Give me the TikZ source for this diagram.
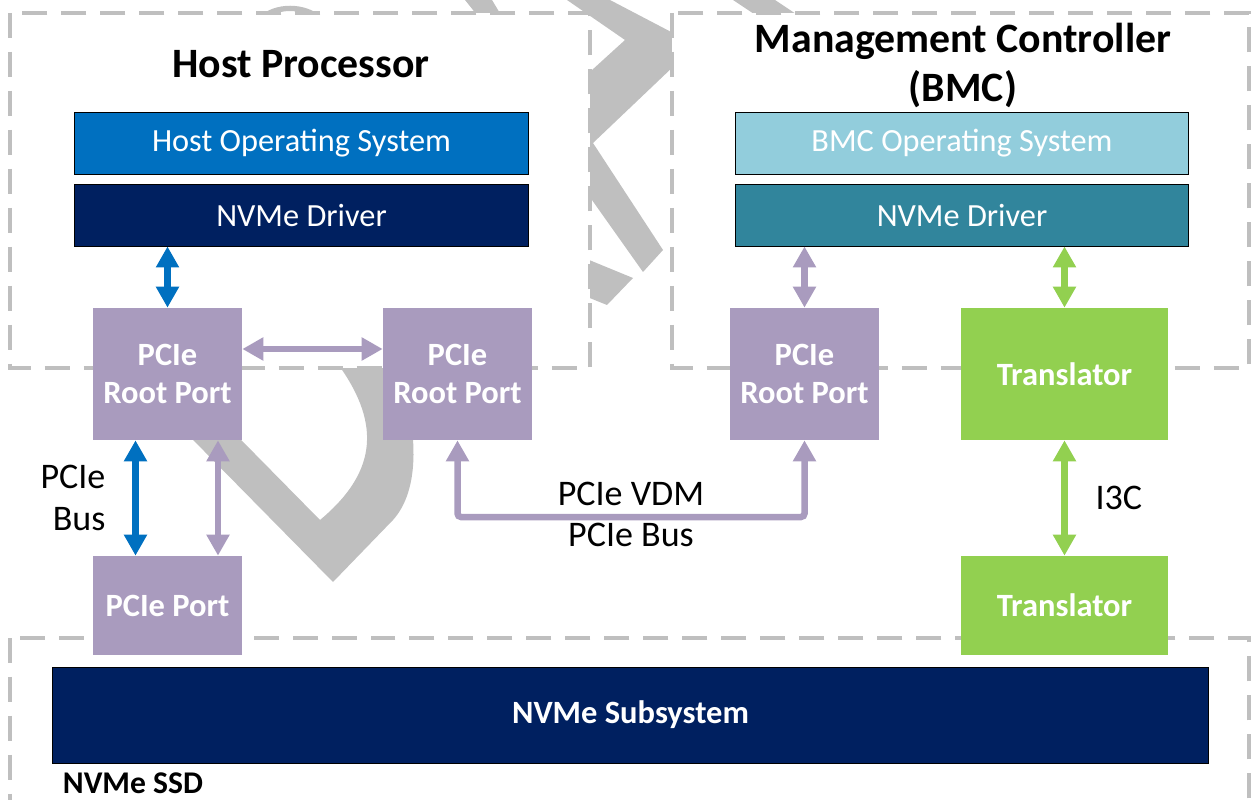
\documentclass[tikz,border=0pt]{standalone}
\usepackage{fontspec}
\setmainfont{Carlito}
\usepackage{tikz}
\usetikzlibrary{arrows.meta,positioning,calc}

\definecolor{hostblue}{HTML}{0070C0}
\definecolor{navy}{HTML}{002060}
\definecolor{bmclight}{HTML}{92CDDC}
\definecolor{bmcteal}{HTML}{31859C}
\definecolor{lav}{HTML}{A99BBE}
\definecolor{grn}{HTML}{92D050}
\definecolor{wmgray}{HTML}{BFBFBF}

\begin{document}
\begin{tikzpicture}[x=0.02cm, y=-0.02cm,
  layer/.style={draw=black, line width=0.5pt, inner sep=0pt, minimum width=9.07cm,
    minimum height=1.24cm, text=white, font=\fontsize{18.4}{22}\selectfont},
  block/.style={inner sep=0pt, minimum width=2.98cm, minimum height=2.64cm, text=white,
    align=center, font=\bfseries\fontsize{18.5}{21.6}\selectfont},
  zone/.style={draw=wmgray, fill=white, line width=0.065cm, dash pattern=on 0.5cm off 0.28cm},
  link/.style={line width=0.13cm,
    {Triangle[width=0.44cm,length=0.42cm]}-{Triangle[width=0.44cm,length=0.42cm]}},
  lbl/.style={text=black, font=\fontsize{20.5}{24}\selectfont},
  title/.style={anchor=base, align=center, font=\bfseries\fontsize{23.8}{27.9}\selectfont}]
  \useasboundingbox (0,0) rectangle (1251,800);

  % watermark behind the areas
  \fill[wmgray] (567,0) -- (610,0) -- (696,45) -- (593,143) -- (663,250) -- (643,272)
    -- (536,121) -- (625,40) -- cycle;
  \fill[wmgray] (560,248) -- (633,278) -- (607,305) -- (560,286) -- cycle;
  \fill[wmgray] (733,0) -- (775,0) -- (805,20) -- (763,20) -- cycle;
  \fill[wmgray] (465,0) -- (492,0) -- (504,20) -- (481,20) -- cycle;
  \fill[wmgray] (259,17) .. controls (275,2) and (305,2) .. (322,17) -- (312,17)
    .. controls (300,9) and (280,9) .. (269,17) -- cycle;
  \fill[wmgray] (140,386) -- (333,582) -- (393,520) .. controls (420,490) and (420,430) .. (395,360)
    -- (335,360) .. controls (380,420) and (380,470) .. (320,520) -- (190,388) -- cycle;

  % areas
  \draw[zone] (10,13) rectangle (590,368);
  \draw[zone] (672,13) rectangle (1249,368);
  \draw[zone] (10,638) rectangle (1249,820);

  \node[title] (hosttitle) at (301,78) {Host Processor};
  \node[title] (bmctitle) at (963,102) {Management Controller\\(BMC)};

  \node[layer, fill=hostblue] (hostos) at (301.5,143) {Host Operating System};
  \node[layer, fill=navy] (hostdrv) at (301.5,215) {NVMe Driver};
  \node[layer, fill=bmclight] (bmcos) at (962,143) {BMC Operating System};
  \node[layer, fill=bmcteal] (bmcdrv) at (962,215) {NVMe Driver};

  \node[block, fill=lav] (rootA) at (167.5,374) {PCIe\\Root Port};
  \node[block, fill=lav] (rootB) at (457.5,374) {PCIe\\Root Port};
  \node[block, fill=lav] (rootC) at (804.5,374) {PCIe\\Root Port};
  \node[block, fill=grn, minimum width=4.14cm] (transA) at (1064.5,374) {Translator};
  \node[block, fill=lav, minimum height=1.98cm] (port) at (167.5,605.5) {PCIe Port};
  \node[block, fill=grn, minimum width=4.14cm, minimum height=1.98cm] (transB) at (1064.5,605.5) {Translator};

  \node[draw=black, line width=0.5pt, fill=navy, minimum width=23.14cm, minimum height=1.92cm,
    text=white, font=\bfseries\fontsize{18.5}{21}\selectfont] (subsys) at (630.5,715) {NVMe Subsystem};
  \node[anchor=base, font=\bfseries\fontsize{18}{21}\selectfont] (ssd) at (133,793) {NVMe SSD};

  % links
  \draw[link, hostblue] (rootA.north |- hostdrv.south) -- (rootA.north);
  \draw[link, lav] ([yshift=0.5cm]rootA.east) -- ([yshift=0.5cm]rootB.west);
  \draw[link, hostblue] ([xshift=-0.64cm]rootA.south) -- ([xshift=-0.64cm]port.north)
    node[midway, left=0.42cm, align=right, lbl] (busA) {PCIe\\Bus};
  \draw[link, lav] ([xshift=1.01cm]rootA.south) -- ([xshift=1.01cm]port.north);

  \coordinate (vdm) at (631,517);
  \draw[link, lav, rounded corners=2pt] (rootB.south) |- (vdm) -| (rootC.south);
  \node[lbl, anchor=base] (vdmtop) at ([yshift=0.24cm]vdm) {PCIe VDM};
  \node[lbl, anchor=base] (vdmbus) at ([yshift=-0.6cm]vdm) {PCIe Bus};

  \draw[link, lav] (rootC.north |- bmcdrv.south) -- (rootC.north);
  \draw[link, grn] (transA.north |- bmcdrv.south) -- (transA.north);
  \draw[link, grn] (transA.south) -- (transB.north)
    node[midway, right=0.44cm, lbl] (i3c) {I3C};
\end{tikzpicture}
\end{document}
